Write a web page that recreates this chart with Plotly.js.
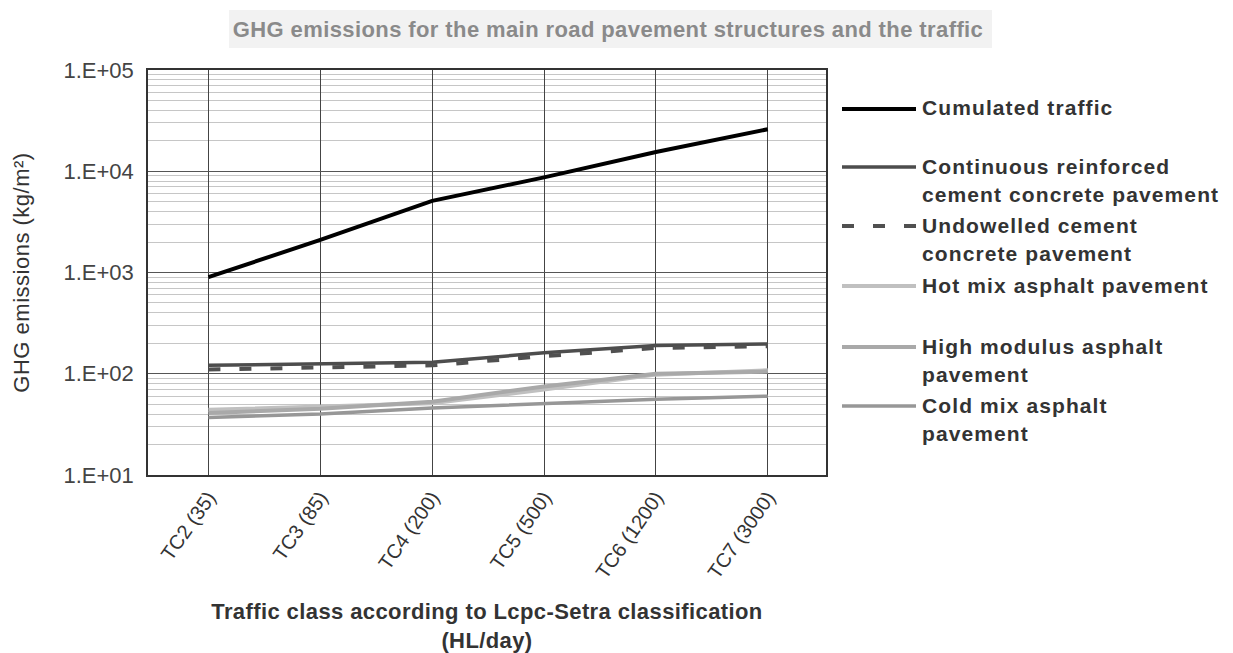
<!DOCTYPE html>
<html>
<head>
<meta charset="utf-8">
<script src="https://cdn.plot.ly/plotly-3.0.1.min.js"></script>
<style>
  html, body { margin: 0; padding: 0; background: #fff; }
  #chart { width: 1233px; height: 653px; }
  .annotation-text { letter-spacing: 1.1px; }
  .gtitle { letter-spacing: 0.4px; }
  .xtitle { letter-spacing: 0.4px; }
  .ytitle { letter-spacing: 0.5px; }
</style>
</head>
<body>
<div id="chart"></div>
<script>
// ---- Data ----
const categories = ["TC2 (35)", "TC3 (85)", "TC4 (200)", "TC5 (500)", "TC6 (1200)", "TC7 (3000)"];
const cumulatedTraffic = [900, 2100, 5100, 8700, 15500, 26000];
const continuousReinforced = [121, 125, 130, 161, 190, 197];
const undowelledCement = [110, 116, 121, 149, 180, 187];
const hotMixAsphalt = [44, 47, 51, 70, 98, 108];
const highModulusAsphalt = [41, 45, 53, 75, 100, 105];
const coldMixAsphalt = [37, 40, 46, 51, 56, 60];
const yTickVals = [10, 100, 1000, 10000, 100000];
const yTickText = ["1.E+01", "1.E+02", "1.E+03", "1.E+04", "1.E+05"];
const seriesNames = [
  "Cumulated traffic",
  "Continuous reinforced<br>cement concrete pavement",
  "Undowelled cement<br>concrete pavement",
  "Hot mix asphalt pavement",
  "High modulus asphalt<br>pavement",
  "Cold mix asphalt<br>pavement"
];

// ---- Styles ----
const seriesValues = [cumulatedTraffic, continuousReinforced, undowelledCement, hotMixAsphalt, highModulusAsphalt, coldMixAsphalt];
const styles = [
  {color: "#000000", width: 4, dash: "solid"},
  {color: "#4d4d4d", width: 3.5, dash: "solid"},
  {color: "#505050", width: 4, dash: "12px,19px"},
  {color: "#c0c0c0", width: 4, dash: "solid"},
  {color: "#a9a9a9", width: 4, dash: "solid"},
  {color: "#979797", width: 3.5, dash: "solid"}
];

const traces = seriesValues.map((vals, i) => ({
  type: "scatter",
  mode: "lines",
  x: categories,
  y: vals,
  name: seriesNames[i].replace("<br>", " "),
  line: {color: styles[i].color, width: styles[i].width, dash: styles[i].dash},
  showlegend: false,
  hoverinfo: "x+y+name"
}));

// ---- Layout geometry ----
const W = 1233, H = 653;
const plotL = 148, plotR = 826, plotT = 70, plotB = 475;
const px2x = p => (p - plotL) / (plotR - plotL);
const py2y = p => (plotB - p) / (plotB - plotT);

// Manual legend (matches reference spacing)
const legendFirstY = [108, 166, 225, 285, 346, 405];
const legendLineGap = 28;
const legSymL = 842, legSymR = 916, legTextX = 920;
const shapes = [];
const annotations = [];

// Title background box
shapes.push({
  type: "rect", xref: "paper", yref: "paper", layer: "below",
  x0: px2x(229), x1: px2x(992), y0: py2y(48), y1: py2y(10),
  fillcolor: "#f2f2f2", line: {width: 0}
});

seriesNames.forEach((nm, i) => {
  const yc = legendFirstY[i];
  shapes.push({
    type: "line", xref: "paper", yref: "paper",
    x0: px2x(legSymL), x1: px2x(legSymR), y0: py2y(yc + 1), y1: py2y(yc + 1),
    line: {color: styles[i].color, width: styles[i].width, dash: styles[i].dash}
  });
  nm.split("<br>").forEach((ln, j) => {
    annotations.push({
      xref: "paper", yref: "paper",
      x: px2x(legTextX), y: py2y(yc + j * legendLineGap),
      xanchor: "left", yanchor: "middle",
      text: ln, showarrow: false,
      font: {family: "Liberation Sans, Arial, sans-serif", size: 21, color: "#333333", weight: "bold"}
    });
  });
});

const layout = {
  width: W, height: H,
  margin: {l: plotL, r: W - plotR, t: plotT, b: H - plotB, pad: 0},
  paper_bgcolor: "#ffffff",
  plot_bgcolor: "#ffffff",
  showlegend: false,
  title: {
    text: "GHG emissions for the main road pavement structures and the traffic",
    x: 608 / W,
    xanchor: "center",
    y: 1 - 29 / H, yanchor: "middle",
    font: {family: "Liberation Sans, Arial, sans-serif", size: 22, color: "#8a8a8a", weight: "bold"}
  },
  xaxis: {
    type: "category",
    range: [-0.54, 5.52],
    showgrid: true, gridcolor: "#444444", gridwidth: 1,
    showline: true, linecolor: "#333333", linewidth: 1.5, mirror: true,
    ticks: "", tickangle: -55,
    ticklabelstandoff: 1,
    tickfont: {family: "Liberation Sans, Arial, sans-serif", size: 20, color: "#333333"},
    zeroline: false,
    title: {
      text: "Traffic class according to Lcpc-Setra classification<br>(HL/day)",
      standoff: 22,
      font: {family: "Liberation Sans, Arial, sans-serif", size: 22, color: "#333333", weight: "bold"}
    }
  },
  yaxis: {
    type: "log",
    range: [1, 5],
    tickmode: "array", tickvals: yTickVals, ticktext: yTickText,
    showgrid: true, gridcolor: "#555555", gridwidth: 1.2,
    minor: {dtick: "D1", showgrid: true, gridcolor: "#c6c6c6", gridwidth: 1, ticks: ""},
    showline: true, linecolor: "#333333", linewidth: 1.5, mirror: true,
    ticks: "", ticklabelstandoff: 8,
    tickfont: {family: "Liberation Sans, Arial, sans-serif", size: 22, color: "#444444"},
    zeroline: false,
    title: {
      text: "GHG emissions (kg/m²)",
      standoff: 28,
      font: {family: "Liberation Sans, Arial, sans-serif", size: 22, color: "#333333"}
    }
  },
  shapes: shapes,
  annotations: annotations
};

Plotly.newPlot("chart", traces, layout, {displayModeBar: false, responsive: false});
</script>
</body>
</html>
